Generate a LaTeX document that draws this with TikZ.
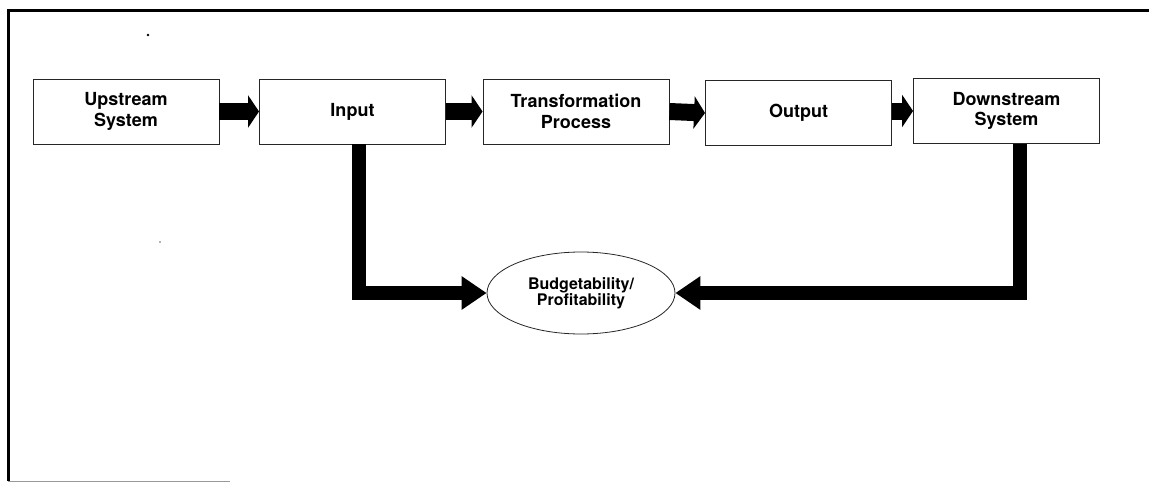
\documentclass[tikz,border=0pt]{standalone}
\usepackage{fontspec}
\setmainfont{TeX Gyre Heros}
\usetikzlibrary{arrows.meta,shapes.geometric}
\tikzset{
  stage/.style={draw=black!85, line width=0.9pt, minimum width=186pt, minimum height=65pt,
    inner sep=0pt, align=center, font=\fontsize{18}{20.5}\selectfont\bfseries},
  goal/.style={ellipse, draw=black!85, line width=0.8pt, minimum width=188pt, minimum height=82pt,
    inner sep=0pt, align=center, font=\fontsize{16}{14.5}\selectfont\bfseries},
  flow/.style={line width=17pt, -{Triangle[length=11pt,width=32pt]}},
  feed/.style={line width=14pt, -{Triangle[length=25pt,width=32pt]}},
}
\begin{document}
\begin{tikzpicture}[x=1pt,y=-1pt]
  \useasboundingbox (0,0) rectangle (1149,483);
  % page frame
  \draw[line width=3pt] (1149,10) -- (8,10) -- (8,481);
  \draw[line width=1pt, black!40] (8,481) -- (230,481);
  \fill (148,35) circle (1.3pt);
  \fill[black!60] (160,242) circle (0.8pt);

  % stages of the system
  \node[stage] (up)   at (126,111.5)   {Upstream\\System};
  \node[stage] (in)   at (352.5,111.5) {Input};
  \node[stage] (tp)   at (576,111.5)   {Transformation\\Process};
  \node[stage] (out)  at (798.5,113)   {Output};
  \node[stage] (down) at (1006.5,111)  {Downstream\\System};

  \node[goal] (bp) at (581,293) {Budgetability/\\Profitability};

  % forward flow
  \draw[flow] (up.east) -- (in.west);
  \draw[flow] (in.east) -- (tp.west);
  \draw[flow] (tp.east) -- (out.west);
  \draw[flow] (out.east |- down.west) -- (down.west);

  % feedback into the evaluation
  \draw[feed] ([xshift=6.5pt]in.south) |- (bp.west);
  \draw[feed] ([xshift=13.5pt]down.south) |- (bp.east);
\end{tikzpicture}
\end{document}
